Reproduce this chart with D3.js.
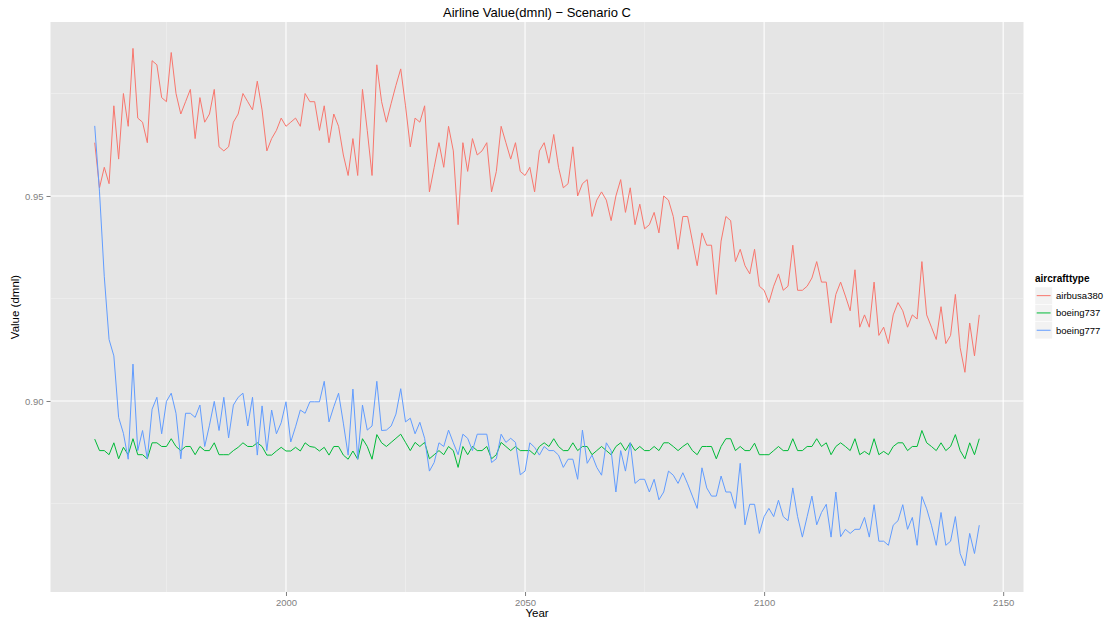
<!DOCTYPE html>
<html><head><meta charset="utf-8">
<script src="https://cdn.jsdelivr.net/npm/d3@7"></script>
<style>body{margin:0;background:#fff;}svg{display:block;font-family:"Liberation Sans",Arial,sans-serif;}</style>
</head><body><svg id="c" width="1110" height="621"></svg>
<script>
const startYear = 1960;
const seriesNames = ["airbusa380", "boeing737", "boeing777"];
const colors = ["#F8766D", "#00BA38", "#619CFF"];
const xTicks = [2000, 2050, 2100, 2150];
const yTicks = [0.90, 0.95];
const xMinor = [1975, 2025, 2075, 2125];
const yMinor = [0.875, 0.925, 0.975];

const airbusa380 = [0.963,0.952,0.957,0.953,0.972,0.959,0.975,0.967,0.986,0.969,0.968,0.963,0.983,0.982,0.974,0.973,0.985,0.975,0.970,0.973,0.976,0.964,0.974,0.968,0.970,0.976,0.962,0.961,0.962,0.968,
0.970,0.975,0.973,0.971,0.978,0.971,0.961,0.964,0.966,0.969,0.967,0.968,0.969,0.967,0.975,0.973,0.973,0.966,0.972,0.963,0.970,0.967,0.960,0.955,0.964,0.955,0.976,0.966,0.955,0.982,
0.973,0.968,0.9726,0.977,0.981,0.972,0.962,0.969,0.968,0.972,0.951,0.957,0.963,0.957,0.967,0.961,0.943,0.963,0.956,0.964,0.960,0.961,0.963,0.951,0.956,0.967,0.963,0.959,0.963,0.956,
0.955,0.957,0.951,0.961,0.963,0.958,0.965,0.957,0.952,0.953,0.962,0.950,0.953,0.954,0.945,0.949,0.951,0.949,0.944,0.950,0.954,0.946,0.952,0.943,0.948,0.942,0.943,0.946,0.941,0.950,
0.949,0.945,0.937,0.945,0.945,0.939,0.933,0.941,0.938,0.938,0.926,0.939,0.945,0.944,0.934,0.937,0.933,0.931,0.937,0.928,0.927,0.924,0.928,0.931,0.927,0.928,0.938,0.927,0.927,0.928,
0.930,0.934,0.929,0.929,0.919,0.926,0.929,0.9256,0.922,0.932,0.918,0.921,0.918,0.929,0.916,0.918,0.914,0.921,0.924,0.922,0.918,0.921,0.920,0.934,0.921,0.918,0.915,0.923,0.914,0.916,
0.926,0.913,0.907,0.919,0.911,0.921];

const boeing737 = [0.8907,0.8879,0.8879,0.8869,0.8898,0.8859,0.8887,0.8869,0.8908,0.8869,0.8869,0.8859,0.8898,0.8898,0.8889,0.8889,0.8908,0.8889,0.8879,0.8889,0.8889,0.8869,0.8889,0.8879,0.8879,0.8898,0.8869,0.8869,0.8869,0.8879,
0.8887,0.8898,0.8889,0.8889,0.8898,0.8889,0.8868,0.8868,0.8878,0.8887,0.8878,0.8878,0.8887,0.8878,0.8898,0.8889,0.8887,0.8878,0.8887,0.8868,0.8889,0.8889,0.8868,0.8858,0.8878,0.8858,0.8908,0.8889,0.8858,0.8918,
0.8898,0.8889,0.8899,0.8909,0.8919,0.8899,0.8879,0.8899,0.8889,0.8899,0.8859,0.8869,0.8879,0.8869,0.8889,0.8879,0.8838,0.8889,0.8869,0.8889,0.8879,0.8879,0.8889,0.8859,0.8869,0.8899,0.8889,0.8879,0.8889,0.8879,
0.8879,0.8879,0.8869,0.8889,0.8898,0.8889,0.8908,0.8889,0.8879,0.8879,0.8898,0.8879,0.8889,0.8889,0.8869,0.8879,0.8889,0.8879,0.8869,0.8889,0.8898,0.8879,0.8898,0.8879,0.8889,0.8879,0.8879,0.8889,0.8879,0.8898,
0.8898,0.8889,0.8879,0.8889,0.8897,0.8879,0.8869,0.8889,0.8889,0.8889,0.8859,0.8889,0.8908,0.8908,0.8879,0.8889,0.8879,0.8879,0.8897,0.8869,0.8869,0.8869,0.8879,0.8889,0.8879,0.8879,0.8908,0.8879,0.8879,0.8889,
0.8889,0.8908,0.8889,0.8898,0.8869,0.8889,0.8898,0.8889,0.8879,0.8908,0.8869,0.8877,0.8869,0.8908,0.8869,0.8877,0.8869,0.8889,0.8898,0.8898,0.8879,0.8889,0.8889,0.8928,0.8898,0.8889,0.8879,0.8898,0.8879,0.8889,
0.8918,0.8879,0.8859,0.8898,0.8869,0.8908];

const boeing777 = [0.9671,0.9510,0.9303,0.9150,0.9110,0.8960,0.8921,0.8858,0.9090,0.8879,0.8928,0.8859,0.8980,0.9009,0.8920,0.8999,0.9019,0.8970,0.8859,0.8970,0.8970,0.8960,0.8990,0.8889,0.8941,0.8999,0.8928,0.9009,0.8910,0.8990,
0.9009,0.9019,0.8939,0.9009,0.8868,0.8988,0.8879,0.8978,0.8920,0.8947,0.8998,0.8900,0.8937,0.8978,0.8970,0.8998,0.8998,0.8998,0.9048,0.8949,0.8986,0.9019,0.8946,0.8868,0.9029,0.8858,0.8990,0.8929,0.8939,0.9048,
0.8928,0.8929,0.8939,0.8968,0.9030,0.8949,0.8958,0.8920,0.8948,0.8909,0.8829,0.8850,0.8898,0.8889,0.8929,0.8898,0.8869,0.8919,0.8909,0.8879,0.8919,0.8919,0.8919,0.8850,0.8859,0.8919,0.8899,0.8909,0.8899,0.8820,
0.8829,0.8898,0.8887,0.8868,0.8889,0.8879,0.8879,0.8868,0.8838,0.8858,0.8858,0.8809,0.8929,0.8848,0.8868,0.8838,0.8819,0.8898,0.8879,0.8778,0.8879,0.8829,0.8898,0.8799,0.8809,0.8809,0.8778,0.8809,0.8759,0.8778,
0.8829,0.8819,0.8799,0.8825,0.8798,0.8768,0.8738,0.8837,0.8788,0.8768,0.8768,0.8817,0.8778,0.8778,0.8738,0.8848,0.8698,0.8748,0.8748,0.8677,0.8718,0.8738,0.8718,0.8758,0.8718,0.8708,0.8788,0.8718,0.8668,0.8718,
0.8768,0.8698,0.8728,0.8748,0.8668,0.8778,0.8669,0.8687,0.8677,0.8687,0.8687,0.8716,0.8668,0.8747,0.8658,0.8658,0.8648,0.8697,0.8708,0.8747,0.8687,0.8716,0.8648,0.8767,0.8737,0.8697,0.8648,0.8728,0.8648,0.8658,
0.8718,0.8628,0.8598,0.8677,0.8628,0.8697];

const seriesValues = [airbusa380, boeing737, boeing777];
const series = seriesNames.map((name, i) => ({
  name, color: colors[i],
  values: seriesValues[i].map((v, j) => ({year: startYear + j, value: v}))
}));

const svg = d3.select("#c");
const L = 50.5, R = 1023.5, T = 22, B = 592;
const x = d3.scaleLinear().domain([1950.75, 2154.25]).range([L, R]);
const y = d3.scaleLinear().domain([0.85341, 0.99244]).range([B, T]);

// panel
svg.append("rect").attr("x", L).attr("y", T).attr("width", R - L).attr("height", B - T).attr("fill", "#E5E5E5");
const g = svg.append("g");
g.selectAll(".xm").data(xMinor).join("line").attr("x1", d => x(d)).attr("x2", d => x(d)).attr("y1", T).attr("y2", B).attr("stroke", "#F2F2F2").attr("stroke-width", 0.6);
g.selectAll(".ym").data(yMinor).join("line").attr("y1", d => y(d)).attr("y2", d => y(d)).attr("x1", L).attr("x2", R).attr("stroke", "#F2F2F2").attr("stroke-width", 0.6);
g.selectAll(".xM").data(xTicks).join("line").attr("x1", d => x(d)).attr("x2", d => x(d)).attr("y1", T).attr("y2", B).attr("stroke", "#FFFFFF").attr("stroke-width", 1.1);
g.selectAll(".yM").data(yTicks).join("line").attr("y1", d => y(d)).attr("y2", d => y(d)).attr("x1", L).attr("x2", R).attr("stroke", "#FFFFFF").attr("stroke-width", 1.1);

// lines
const line = d3.line().x(d => x(d.year)).y(d => y(d.value));
svg.append("g").selectAll("path").data(series).join("path")
  .attr("d", d => line(d.values)).attr("fill", "none").attr("stroke", d => d.color).attr("stroke-width", 1);

// axes
const xAxis = d3.axisBottom(x).tickValues(xTicks).tickFormat(d3.format("d")).tickSize(4).tickPadding(3);
const yAxis = d3.axisLeft(y).tickValues(yTicks).tickFormat(d3.format(".2f")).tickSize(4).tickPadding(3);
const gx = svg.append("g").attr("transform", `translate(0,${B})`).call(xAxis);
const gy = svg.append("g").attr("transform", `translate(${L},0)`).call(yAxis);
[gx, gy].forEach(a => {
  a.select(".domain").remove();
  a.selectAll(".tick line").attr("stroke", "#7F7F7F");
  a.selectAll(".tick text").attr("fill", "#7F7F7F").style("font-size", "9.5px");
});

// titles
svg.append("text").attr("x", (L + R) / 2).attr("y", 17).attr("text-anchor", "middle").style("font-size", "13px").attr("fill", "#000").text("Airline Value(dmnl) \u2212 Scenario C");
svg.append("text").attr("x", (L + R) / 2).attr("y", 617).attr("text-anchor", "middle").style("font-size", "11.5px").attr("fill", "#000").text("Year");
svg.append("text").attr("transform", `translate(19,${(T + B) / 2}) rotate(-90)`).attr("text-anchor", "middle").style("font-size", "11.5px").attr("fill", "#000").text("Value (dmnl)");

// legend
const lg = svg.append("g").attr("transform", "translate(1035,273)");
lg.append("text").attr("x", 0).attr("y", 9).style("font-size", "10px").style("font-weight", "bold").text("aircrafttype");
const items = lg.selectAll(".it").data(series).join("g").attr("transform", (d, i) => `translate(0,${14 + i * 17.3})`);
items.append("rect").attr("width", 17.3).attr("height", 17.3).attr("fill", "#F2F2F2").attr("stroke", "#FFFFFF").attr("stroke-width", 0.5);
items.append("line").attr("x1", 1.7).attr("x2", 15.6).attr("y1", 8.65).attr("y2", 8.65).attr("stroke", d => d.color).attr("stroke-width", 1);
items.append("text").attr("x", 21).attr("y", 12.2).style("font-size", "9.5px").attr("fill", "#000").text(d => d.name);
</script></body></html>
